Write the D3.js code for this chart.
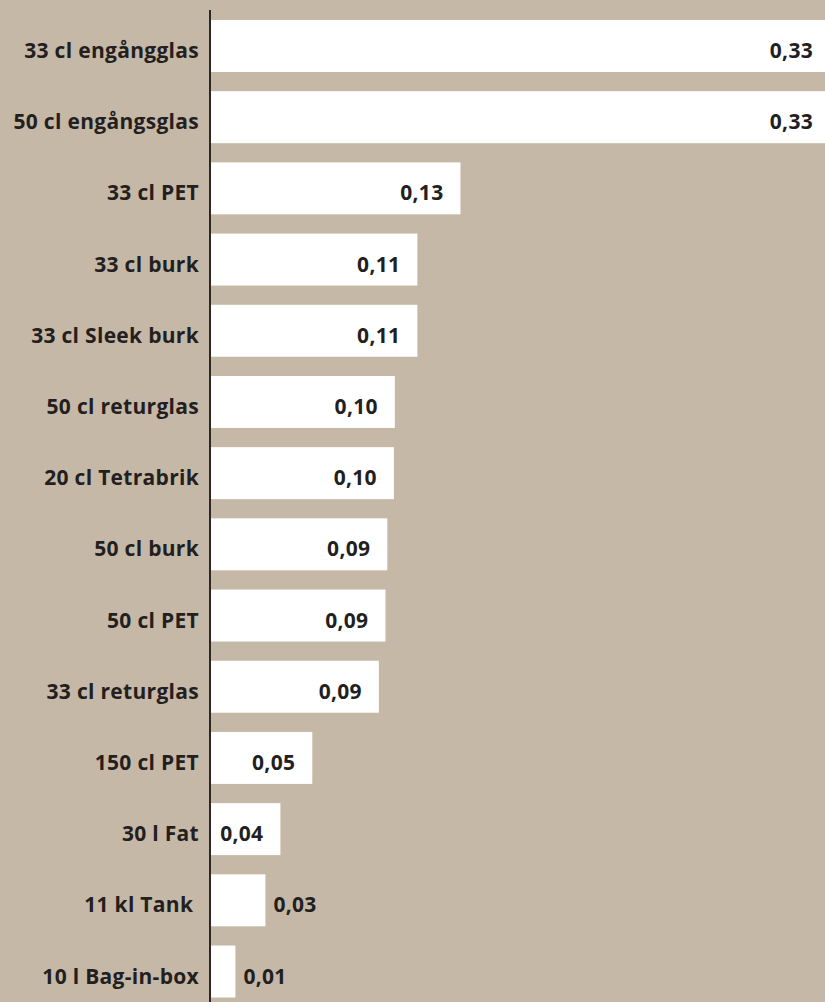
<!DOCTYPE html>
<html>
<head>
<meta charset="utf-8">
<script src="https://cdn.jsdelivr.net/npm/d3@7/dist/d3.min.js"></script>
<style>
  html, body { margin: 0; padding: 0; background: #c6b8a7; }
  svg { display: block; }
  .cat { font-family: "Open Sans", sans-serif; font-weight: 700; font-size: 21px; letter-spacing: 0.3px; fill: #231f20; white-space: pre; }
  .val { font-family: "Open Sans", sans-serif; font-weight: 700; font-size: 21px; letter-spacing: 0.3px; fill: #231f20; }
</style>
</head>
<body>
<svg width="825" height="1002"></svg>
<script>
// packaging types (top to bottom)
var categories = [
  "33 cl engångglas", "50 cl engångsglas", "33 cl PET", "33 cl burk",
  "33 cl Sleek burk", "50 cl returglas", "20 cl Tetrabrik", "50 cl burk",
  "50 cl PET", "33 cl returglas", "150 cl PET", "30 l Fat",
  "11 kl Tank ", "10 l Bag-in-box"
];
// values
var values = [
  0.330, 0.330, 0.133, 0.110,
  0.110, 0.098, 0.0975, 0.094,
  0.093, 0.0895, 0.054, 0.037,
  0.029, 0.013
];

var data = categories.map(function (c, i) { return { cat: c, v: values[i] }; });

var svg = d3.select('svg');
var width = +svg.attr('width');
var height = +svg.attr('height');

svg.append('rect')
  .attr('width', width)
  .attr('height', height)
  .attr('fill', '#c6b8a7');

var x = d3.scaleLinear()
  .domain([0, 0.33])
  .range([211, 830]);

var y = d3.scaleBand()
  .domain(categories)
  .range([20, 997.5])
  .paddingInner(0.27)
  .paddingOuter(0);

var fmt = function (v) { return d3.format('.2f')(v).replace('.', ','); };

svg.selectAll('rect.bar')
  .data(data)
  .join('rect')
  .attr('class', 'bar')
  .attr('x', x(0))
  .attr('y', function (d) { return y(d.cat); })
  .attr('width', function (d) { return x(d.v) - x(0); })
  .attr('height', y.bandwidth())
  .attr('fill', '#ffffff');

// vertical axis line
svg.append('line')
  .attr('x1', 210).attr('x2', 210)
  .attr('y1', 10).attr('y2', height)
  .attr('stroke', '#2b2727')
  .attr('stroke-width', 2);

svg.selectAll('text.cat')
  .data(data)
  .join('text')
  .attr('class', 'cat')
  .attr('x', 199)
  .attr('y', function (d) { return y(d.cat) + y.bandwidth() / 2 + 12; })
  .attr('text-anchor', 'end')
  .text(function (d) { return d.cat; });

svg.selectAll('text.val')
  .data(data)
  .join('text')
  .attr('class', 'val')
  .attr('x', function (d) { return d.v < 0.033 ? x(d.v) + 8 : x(d.v) - 17; })
  .attr('y', function (d) { return y(d.cat) + y.bandwidth() / 2 + 12; })
  .attr('text-anchor', function (d) { return d.v < 0.033 ? 'start' : 'end'; })
  .text(function (d) { return fmt(d.v); });
</script>
</body>
</html>
